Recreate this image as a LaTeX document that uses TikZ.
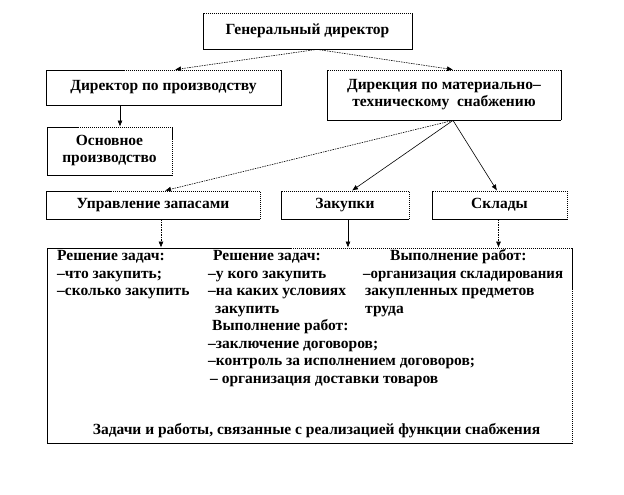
\documentclass[tikz,border=0pt]{standalone}
\usepackage{fontspec}
\setmainfont{Liberation Serif}
\usetikzlibrary{arrows.meta}
\tikzset{
  box/.style={draw=black, line width=0.8pt, dash pattern=on 1.5pt off 0.5pt, inner sep=0pt, align=center,
    font=\fontsize{15.5}{17}\selectfont\bfseries},
  txt/.style={inner sep=0pt, anchor=base west, font=\fontsize{15.5}{17}\selectfont\bfseries},
  arr/.style={line width=0.6pt, -{Latex[length=6pt,width=5pt]}},
  darr/.style={arr, dash pattern=on 1.5pt off 1pt},
}
\begin{document}
\begin{tikzpicture}[x=1pt,y=-1pt]
\useasboundingbox (0,0) rectangle (624,495);
% boxes
\node[box, minimum width=209pt, minimum height=36pt] (gd) at (307.5,31) {Генеральный директор};
\node[box, minimum width=235pt, minimum height=35pt] (dp) at (163.5,87.5) {Директор по производству};
\node[box, minimum width=234pt, minimum height=50pt] (dm) at (444,95) {Дирекция по материально–\\техническому\ \ снабжению};
\node[box, minimum width=125pt, minimum height=48pt] (op) at (109.5,151) {Основное\\производство};
\node[box, minimum width=214pt, minimum height=28pt] (uz) at (153,205) {Управление запасами};
\node[box, minimum width=128pt, minimum height=28pt] (zk) at (345,205) {Закупки};
\node[box, minimum width=135pt, minimum height=28pt] (sk) at (499.5,205) {Склады};
\node[box, minimum width=525pt, minimum height=195pt] (bb) at (309.5,345.5) {};
% text in big box
\node[txt] (c1a) at (57,260.5) {Решение задач:};
\node[txt] (c1b) at (57,278) {–что закупить;};
\node[txt] (c1c) at (57,295.5) {–сколько закупить};
\node[txt] (c2a) at (213,260.5) {Решение задач:};
\node[txt] (c2b) at (208,278) {–у кого закупить};
\node[txt] (c2c) at (208,295.5) {–на каких условиях};
\node[txt] (c2d) at (215,313) {закупить};
\node[txt] (c2e) at (212,330.5) {Выполнение работ:};
\node[txt] (c2f) at (208,348) {–заключение договоров;};
\node[txt] (c2g) at (208,365.5) {–контроль за исполнением договоров;};
\node[txt] (c2h) at (210,383) {– организация доставки товаров};
\node[txt] (c3a) at (390,260.5) {Выполнение работ:};
\node[txt] (c3b) at (363,278) {\scalebox{0.96}[1]{–организация складирования}};
\node[txt] (c3c) at (365,295.5) {закупленных предметов};
\node[txt] (c3d) at (365,313) {труда};
\node[txt, anchor=base] (fin) at (316.5,434.5) {Задачи и работы, связанные с реализацией функции снабжения};
% connectors
\draw[darr] ([xshift=9.5pt]gd.south) -- ([xshift=11.5pt]dp.north);
\draw[darr] ([xshift=9.5pt]gd.south) -- ([xshift=9pt]dm.north);
\draw[arr] ([xshift=-43.5pt]dp.south) -- ([xshift=10.5pt]op.north);
\draw[darr] ([xshift=9pt]dm.south) -- ([xshift=12pt]uz.north);
\draw[arr] ([xshift=9pt]dm.south) -- ([xshift=7pt]zk.north);
\draw[arr] ([xshift=9pt]dm.south) -- ([xshift=-2.5pt]sk.north);
\draw[darr] ([xshift=8pt]uz.south) -- ([xshift=8pt]uz.south |- bb.north);
\draw[arr] ([xshift=3pt]zk.south) -- ([xshift=3pt]zk.south |- bb.north);
\draw[darr] ([xshift=-1pt]sk.south) -- ([xshift=-1pt]sk.south |- bb.north);
\end{tikzpicture}
\end{document}
